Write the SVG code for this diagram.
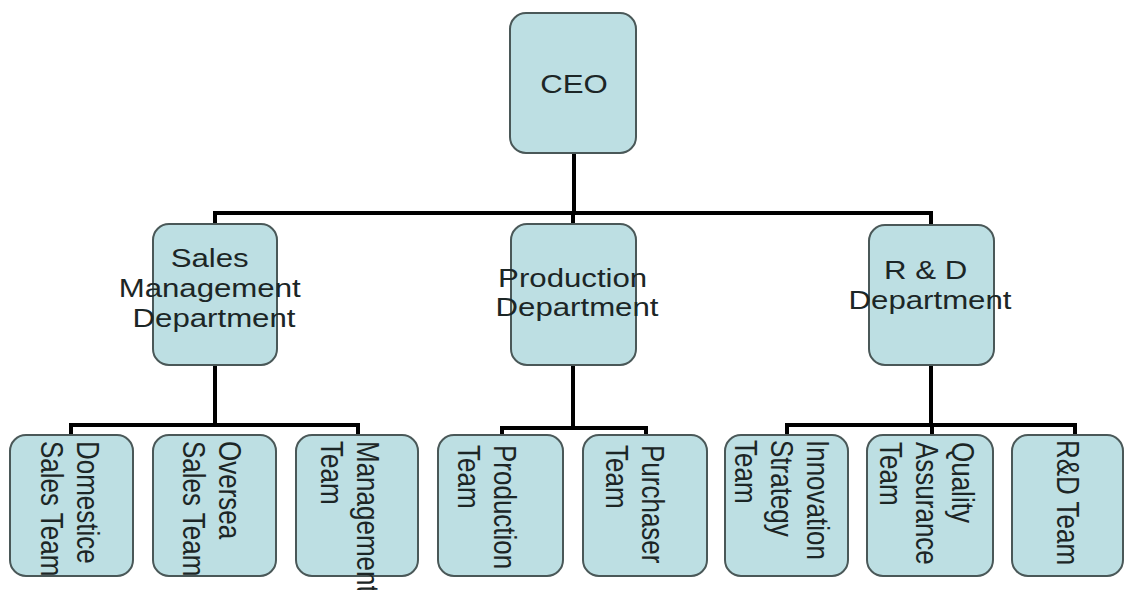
<svg xmlns="http://www.w3.org/2000/svg" width="1127" height="590" viewBox="0 0 1127 590">
  <style>
    .box { fill: #bddfe3; stroke: #4a5858; stroke-width: 2; }
    .lbl { font-family: "Liberation Sans", Arial, sans-serif; font-size: 26px; fill: #1c2626; }
    .mid { text-anchor: middle; }
    .wire { fill: none; stroke: #000; stroke-width: 4; stroke-linecap: square; }
  </style>
  <rect width="1127" height="590" fill="#ffffff"/>

  <!-- connectors -->
  <g id="connectors">
    <path class="wire" d="M574 153 V213 M215 213 H931 M215 213 V224 M573 213 V224 M931 213 V225"/>
    <path class="wire" d="M215 365 V425 M71 425 H358 M71 425 V435 M358 425 V435"/>
    <path class="wire" d="M573 365 V428 M502 428 H646 M502 428 V435 M646 428 V435"/>
    <path class="wire" d="M931 365 V425 M787 425 H1075 M787 425 V435 M932 425 V435 M1075 425 V435"/>
  </g>

  <!-- top level -->
  <g id="ceo">
    <rect class="box" x="510" y="13" width="126" height="140" rx="16"/>
    <text class="lbl mid" transform="translate(574,93) scale(1.2,1)">CEO</text>
  </g>

  <!-- departments -->
  <g id="sales-dept">
    <rect class="box" x="153" y="224" width="124" height="141" rx="16"/>
    <text class="lbl mid" transform="translate(214,267) scale(1.2,1)">
      <tspan x="0" y="0">Sales</tspan>
      <tspan x="0" y="30">Management</tspan>
      <tspan x="0" y="60">Department</tspan>
    </text>
  </g>
  <g id="production-dept">
    <rect class="box" x="511" y="224" width="125" height="141" rx="16"/>
    <text class="lbl mid" transform="translate(577,287) scale(1.2,1)">
      <tspan x="0" y="0">Production</tspan>
      <tspan x="0" y="29">Department</tspan>
    </text>
  </g>
  <g id="rd-dept">
    <rect class="box" x="869" y="225" width="125" height="140" rx="16"/>
    <text class="lbl mid" transform="translate(930,279) scale(1.2,1)">
      <tspan x="0" y="0">R &amp; D</tspan>
      <tspan x="0" y="30">Department</tspan>
    </text>
  </g>

  <!-- teams (vertical labels, reading top to bottom) -->
  <g id="domestic-sales-team">
    <rect class="box" x="10" y="435" width="123" height="141" rx="16"/>
    <text class="lbl" transform="translate(77,441) scale(1.2,1) rotate(90)">
      <tspan x="0" y="0">Domestice</tspan>
      <tspan x="0" y="30">Sales Team</tspan>
    </text>
  </g>
  <g id="oversea-sales-team">
    <rect class="box" x="153" y="435" width="123" height="141" rx="16"/>
    <text class="lbl" transform="translate(219,441) scale(1.2,1) rotate(90)">
      <tspan x="0" y="0">Oversea</tspan>
      <tspan x="0" y="30">Sales Team</tspan>
    </text>
  </g>
  <g id="management-team">
    <rect class="box" x="296" y="435" width="122" height="141" rx="16"/>
    <text class="lbl" transform="translate(357,441) scale(1.2,1) rotate(90)">
      <tspan x="0" y="0">Management</tspan>
      <tspan x="0" y="30">Team</tspan>
    </text>
  </g>
  <g id="production-team">
    <rect class="box" x="438" y="435" width="125" height="141" rx="16"/>
    <text class="lbl" transform="translate(494,445) scale(1.2,1) rotate(90)">
      <tspan x="0" y="0">Production</tspan>
      <tspan x="0" y="30">Team</tspan>
    </text>
  </g>
  <g id="purchaser-team">
    <rect class="box" x="583" y="435" width="124" height="141" rx="16"/>
    <text class="lbl" transform="translate(642,445) scale(1.2,1) rotate(90)">
      <tspan x="0" y="0">Purchaser</tspan>
      <tspan x="0" y="30">Team</tspan>
    </text>
  </g>
  <g id="innovation-strategy-team">
    <rect class="box" x="725" y="435" width="123" height="141" rx="16"/>
    <text class="lbl" transform="translate(807,440) scale(1.2,1) rotate(90)">
      <tspan x="0" y="0">Innovation</tspan>
      <tspan x="0" y="30">Strategy</tspan>
      <tspan x="0" y="60">Team</tspan>
    </text>
  </g>
  <g id="quality-assurance-team">
    <rect class="box" x="867" y="435" width="126" height="141" rx="16"/>
    <text class="lbl" transform="translate(952,442) scale(1.2,1) rotate(90)">
      <tspan x="0" y="0">Quality</tspan>
      <tspan x="0" y="30">Assurance</tspan>
      <tspan x="0" y="60">Team</tspan>
    </text>
  </g>
  <g id="rd-team">
    <rect class="box" x="1012" y="435" width="111" height="141" rx="16"/>
    <text class="lbl" transform="translate(1057,440) scale(1.2,1) rotate(90)">R&amp;D Team</text>
  </g>
</svg>
